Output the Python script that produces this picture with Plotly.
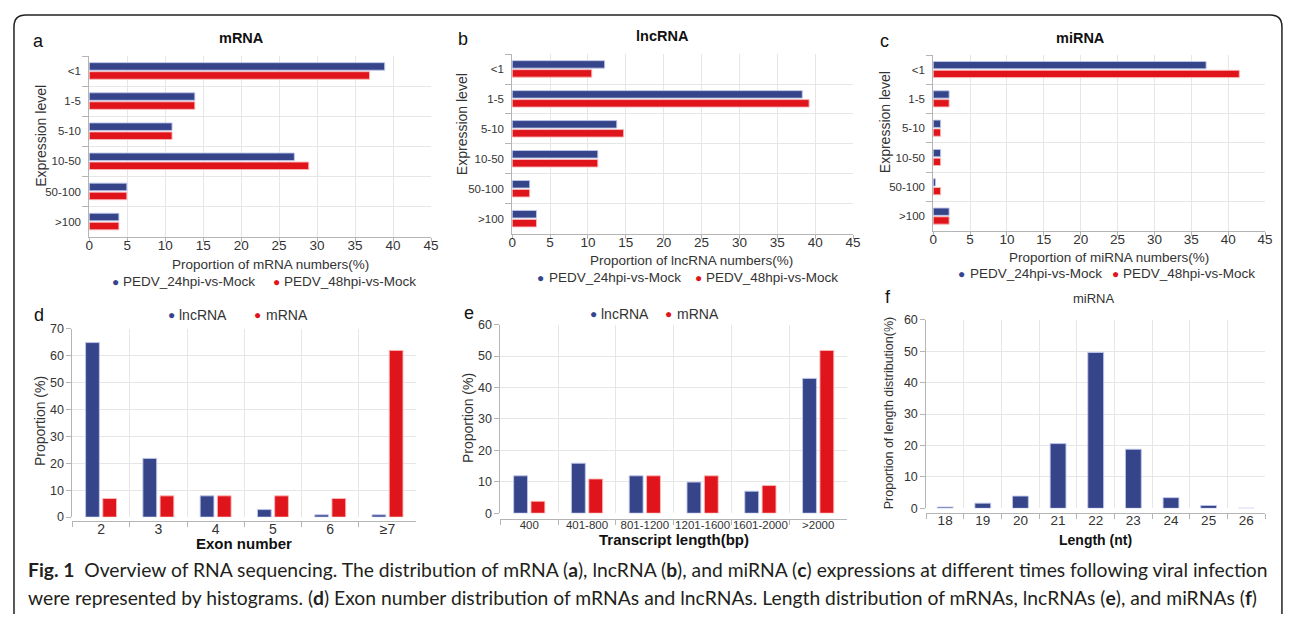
import plotly.graph_objects as go

# page is 1292x622; the figure sits inside the default 8px body margin
PAGE_W, PAGE_H, M = 1292, 622, 8
W, H = PAGE_W - 2 * M, PAGE_H - 2 * M
def px(x): return (x - M) / W
def py(y): return 1 - (y - M) / H

# ---------------- data ----------------
levels = ["<1", "1-5", "5-10", "10-50", "50-100", ">100"]
series_names = ["PEDV_24hpi-vs-Mock", "PEDV_48hpi-vs-Mock"]
mrna_24 = [38.9, 13.9, 10.9, 27.0, 4.95, 3.9]
mrna_48 = [36.9, 13.9, 10.9, 28.9, 4.95, 3.9]
lnc_24 = [12.2, 38.3, 13.8, 11.3, 2.3, 3.2]
lnc_48 = [10.5, 39.2, 14.7, 11.3, 2.3, 3.2]
mi_24 = [37.0, 2.15, 1.0, 1.0, 0.3, 2.15]
mi_48 = [41.5, 2.15, 1.0, 1.0, 1.0, 2.15]

exon_cats = ["2", "3", "4", "5", "6", "≥7"]
exon_lnc = [64.8, 21.8, 7.9, 2.8, 0.85, 0.85]
exon_mrna = [6.9, 7.9, 7.9, 7.9, 6.9, 61.9]

len_cats = ["400", "401-800", "801-1200", "1201-1600", "1601-2000", ">2000"]
len_lnc = [11.9, 15.9, 11.9, 9.9, 7.0, 42.9]
len_mrna = [3.8, 10.9, 11.9, 11.9, 8.8, 51.8]

mi_len_cats = ["18", "19", "20", "21", "22", "23", "24", "25", "26"]
mi_len = [0.4, 1.65, 3.9, 20.6, 49.6, 18.8, 3.4, 0.9, 0.0]

# ---------------- style ----------------
BLUE = "#36448a"
RED = "#e0141b"
BLUE_EDGE = "rgba(190,198,235,0.9)"
RED_EDGE = "rgba(250,185,185,0.9)"
GRID = "#e6e6e6"
AXL = "#b5b5b5"
TXT = "#333333"
FONT = "Liberation Sans, Arial, sans-serif"

fig = go.Figure()

hpanels = [("x", "y", mrna_24, mrna_48), ("x2", "y2", lnc_24, lnc_48), ("x3", "y3", mi_24, mi_48)]
for xa, ya, s24, s48 in hpanels:
    fig.add_trace(go.Bar(y=levels, x=s24, orientation="h", name=series_names[0], xaxis=xa, yaxis=ya,
                         marker=dict(color=BLUE, line=dict(color=BLUE_EDGE, width=1)),
                         offset=-0.28, width=0.25, showlegend=False))
    fig.add_trace(go.Bar(y=levels, x=s48, orientation="h", name=series_names[1], xaxis=xa, yaxis=ya,
                         marker=dict(color=RED, line=dict(color=RED_EDGE, width=1)),
                         offset=0.02, width=0.25, showlegend=False))

fig.add_trace(go.Bar(x=exon_cats, y=exon_lnc, name="lncRNA", xaxis="x4", yaxis="y4",
                     marker=dict(color=BLUE, line=dict(color=BLUE_EDGE, width=1)),
                     offset=-0.27, width=0.24, showlegend=False))
fig.add_trace(go.Bar(x=exon_cats, y=exon_mrna, name="mRNA", xaxis="x4", yaxis="y4",
                     marker=dict(color=RED, line=dict(color=RED_EDGE, width=1)),
                     offset=0.03, width=0.24, showlegend=False))
fig.add_trace(go.Bar(x=len_cats, y=len_lnc, name="lncRNA", xaxis="x5", yaxis="y5",
                     marker=dict(color=BLUE, line=dict(color=BLUE_EDGE, width=1)),
                     offset=-0.27, width=0.24, showlegend=False))
fig.add_trace(go.Bar(x=len_cats, y=len_mrna, name="mRNA", xaxis="x5", yaxis="y5",
                     marker=dict(color=RED, line=dict(color=RED_EDGE, width=1)),
                     offset=0.03, width=0.24, showlegend=False))
fig.add_trace(go.Bar(x=mi_len_cats, y=mi_len, name="miRNA", xaxis="x6", yaxis="y6",
                     marker=dict(color=BLUE, line=dict(color=BLUE_EDGE, width=1)),
                     offset=-0.21, width=0.42, showlegend=False))

def hx(dom, anchor):
    return dict(domain=[px(dom[0]), px(dom[1])], anchor=anchor, range=[0, 45], dtick=5,
                showgrid=True, gridcolor=GRID, zeroline=False, showline=True, linecolor=AXL,
                ticks="outside", ticklen=4, tickcolor=AXL, ticklabelstandoff=-8,
                tickfont=dict(size=13.5, color=TXT, family=FONT))

def hy(dom, anchor):
    return dict(domain=[py(dom[1]), py(dom[0])], anchor=anchor, type="category", autorange="reversed",
                showgrid=True, gridcolor=GRID, showline=True, linecolor=AXL, tickson="boundaries",
                ticks="outside", ticklen=6, tickcolor=AXL, ticklabelstandoff=5,
                tickfont=dict(size=11.5, color=TXT, family=FONT))

def vx(dom, pos, tfs):
    return dict(domain=[px(dom[0]), px(dom[1])], anchor="free", position=py(pos), type="category",
                showgrid=True, gridcolor=GRID, showline=True, linecolor=AXL, tickson="boundaries",
                ticks="outside", ticklen=5, tickcolor=AXL, tickangle=0, ticklabelstandoff=-5,
                tickfont=dict(size=tfs, color=TXT, family=FONT))

def vy(dom, rng, anchor):
    return dict(domain=[py(dom[1]), py(dom[0])], anchor=anchor, range=rng, dtick=10,
                showgrid=True, gridcolor=GRID, zeroline=False, showline=True, linecolor=AXL,
                ticks="outside", ticklen=5, tickcolor=AXL,
                tickfont=dict(size=12.5, color=TXT, family=FONT))

fig.update_layout(
    width=W, height=H, autosize=False, margin=dict(l=0, r=0, t=0, b=0),
    paper_bgcolor="white", plot_bgcolor="white", barmode="group",
    font=dict(family=FONT, color=TXT),
    xaxis=hx((86, 431), "y"), yaxis=hy((50, 235), "x"),
    xaxis2=hx((513, 857), "y2"), yaxis2=hy((48, 232), "x2"),
    xaxis3=hx((938, 1273), "y3"), yaxis3=hy((49, 229), "x3"),
    xaxis4=vx((69, 416), 526, 14), yaxis4=vy((329, 522), [0, 70], "x4"),
    xaxis5=vx((501, 851), 524, 11.5), yaxis5=vy((325, 518), [0, 60], "x5"),
    xaxis6=vx((931, 1273), 518, 13.5), yaxis6=vy((320, 513), [0, 60], "x6"),
)

ann = []
def txt(x, y, text, size, color=TXT, xanchor="center", family=FONT, angle=0):
    ann.append(dict(x=px(x), y=py(y), xref="paper", yref="paper", text=text, showarrow=False,
                    xanchor=xanchor, yanchor="middle", textangle=angle,
                    font=dict(size=size, color=color, family=family)))

# panel letters
for (lx, ly, l) in [(35, 35, "a"), (463, 33, "b"), (889, 35, "c"), (35, 315, "d"), (469, 313, "e"), (892, 297, "f")]:
    txt(lx, ly, l, 18, color="#111")
# panel titles
txt(240, 32, "<b>mRNA</b>", 14.5, color="#111")
txt(665, 30, "<b>lncRNA</b>", 14.5, color="#111")
txt(1087, 32, "<b>miRNA</b>", 14.5, color="#111")
txt(1100, 298, "miRNA", 13)

# axis titles
txt(269, 263, "Proportion of mRNA numbers(%)", 13.5)
txt(694, 259, "Proportion of lncRNA numbers(%)", 13.5)
txt(1115, 256, "Proportion of miRNA numbers(%)", 13.5)
txt(37, 132, "Expression level", 14, angle=-90)
txt(463, 120, "Expression level", 14, angle=-90)
txt(890, 118, "Expression level", 14, angle=-90)
txt(37, 424, "Proportion (%)", 14, angle=-90)
txt(469, 421, "Proportion (%)", 14, angle=-90)
txt(893, 416, "Proportion of length distribution(%)", 12.5, angle=-90)
txt(242, 549, "<b>Exon number</b>", 15, color="#111")
txt(676, 545, "<b>Transcript length(bp)</b>", 15, color="#111")
txt(1102, 545, "<b>Length (nt)</b>", 14, color="#111")

# legends
def legend_item(x, y, color, label, size=13.5):
    txt(x, y, "●", 12, color=color)
    txt(x + 6, y, label, size, xanchor="left")

legend_item(112, 281, BLUE, series_names[0]); legend_item(275, 281, RED, series_names[1])
legend_item(542, 277, BLUE, series_names[0]); legend_item(701, 277, RED, series_names[1])
legend_item(967, 273, BLUE, series_names[0]); legend_item(1122, 273, RED, series_names[1])
legend_item(169, 315, BLUE, "lncRNA", 14); legend_item(256, 315, RED, "mRNA", 14)
legend_item(595, 314, BLUE, "lncRNA", 14); legend_item(671, 314, RED, "mRNA", 14)

# caption
CAP = "Lato, sans-serif"
txt(22, 576, "<b>Fig. 1</b>  Overview of RNA sequencing. The distribution of mRNA (<b>a</b>), lncRNA (<b>b</b>), and miRNA (<b>c</b>) expressions at different times following viral infection",
    19.3, color="#231f20", xanchor="left", family=CAP)
txt(22, 604, "were represented by histograms. (<b>d</b>) Exon number distribution of mRNAs and lncRNAs. Length distribution of mRNAs, lncRNAs (<b>e</b>), and miRNAs (<b>f</b>)",
    19.3, color="#231f20", xanchor="left", family=CAP)

fig.update_layout(annotations=ann)

# rounded frame
x0, y0, x1, r = px(10), py(8), px(1290), 12
rx, ry = r / W, r / H
path = (f"M {x0},{py(630)} L {x0},{y0 - ry} Q {x0},{y0} {x0 + rx},{y0} "
        f"L {x1 - rx},{y0} Q {x1},{y0} {x1},{y0 - ry} L {x1},{py(630)}")
fig.add_shape(type="path", path=path, xref="paper", yref="paper", line=dict(color="#222", width=1.5))

fig.write_html("out.html", config={"displayModeBar": False})
